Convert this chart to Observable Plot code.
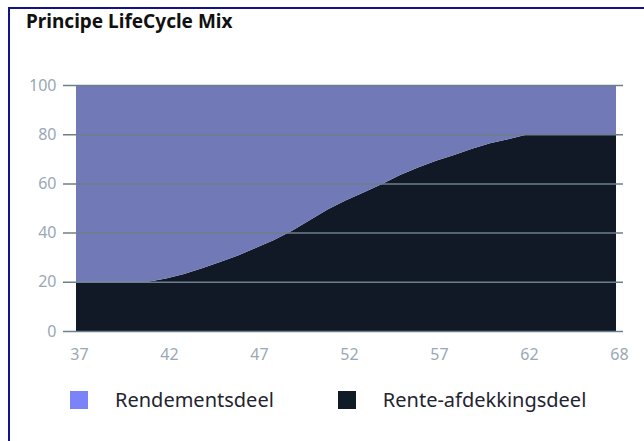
<!DOCTYPE html>
<html>
<head>
<meta charset="utf-8">
<script src="https://cdn.jsdelivr.net/npm/d3@7"></script>
<script src="https://cdn.jsdelivr.net/npm/@observablehq/plot@0.6"></script>
<style>
  html, body { margin: 0; padding: 0; background: #fff; overflow: hidden; }
  #frame { position: absolute; left: 8px; top: 7px; width: 700px; height: 500px;
           border-top: 2px solid #12128a; border-left: 2px solid #12128a; }
  #title { font-family: "Noto Sans", sans-serif; font-weight: 700; font-size: 19px;
           color: #111; padding-left: 16px; height: 26px; line-height: 24px; margin-top: 0px; }
  #legend { display: flex; align-items: center; font-family: "Noto Sans", sans-serif;
            font-size: 20px; color: #1f2430; margin-top: 21px; padding-left: 60px; }
  .item { display: flex; align-items: center; margin-right: 64px; }
  .sw { width: 18px; height: 18px; margin-right: 27px; }
</style>
</head>
<body>
<div id="frame">
  <div id="title">Principe LifeCycle Mix</div>
  <div id="chart"></div>
  <div id="legend"></div>
</div>
<script>
const ages = [37,38,39,40,41,42,43,44,45,46,47,48,49,50,51,52,53,54,55,56,57,58,59,60,61,62,63,64,65,66,67];
const renteAfdekking = [20,20,20,20,20,21.3,23.2,25.5,28,30.7,33.8,37,40.8,45.1,49.5,53.2,56.4,59.8,63.4,66.5,69.2,71.5,74.1,76.3,77.9,79.8,80,80,80,80,80];
const rendement = [80,80,80,80,80,78.7,76.8,74.5,72,69.3,66.2,63,59.2,54.9,50.5,46.8,43.6,40.2,36.6,33.5,30.8,28.5,25.9,23.7,22.1,20.2,20,20,20,20,20];
const seriesNames = ["Rente-afdekkingsdeel", "Rendementsdeel"];
const areaColors = ["#111927", "#7279b7"];
const legendNames = ["Rendementsdeel", "Rente-afdekkingsdeel"];
const legendColors = ["#7b83f8", "#111a27"];
const xTicks = [37,42,47,52,57,62,67];
const xTickLabels = ["37","42","47","52","57","62","68"];
const yTicks = [0,20,40,60,80,100];

const rows = [];
ages.forEach((a, i) => {
  rows.push({age: a, series: seriesNames[0], value: renteAfdekking[i]});
  rows.push({age: a, series: seriesNames[1], value: rendement[i]});
});

const chart = Plot.plot({
  width: 634,
  height: 330,
  marginTop: 50,
  marginBottom: 34,
  marginLeft: 53,
  marginRight: 21,
  style: {fontFamily: "Noto Sans, sans-serif", fontSize: "16px", color: "#9aa8b5", background: "#fff"},
  x: {domain: [37, 67], insetLeft: 13, insetRight: 7},
  y: {domain: [0, 100]},
  color: {domain: seriesNames, range: areaColors},
  marks: [
    Plot.areaY(rows, Plot.stackY({x: "age", y: "value", fill: "series", order: seriesNames})),
    Plot.ruleY(yTicks, {stroke: "#6d7f8c", strokeWidth: 1.5}),
    Plot.axisY({ticks: yTicks, tickSize: 0, tickPadding: 7, label: null, fontSize: 16}),
    Plot.axisX({ticks: xTicks, tickSize: 0, tickPadding: 17, label: null, dx: 3, fontSize: 16,
                tickFormat: (d) => xTickLabels[xTicks.indexOf(d)]})
  ]
});
document.getElementById("chart").appendChild(chart);

const legend = document.getElementById("legend");
legendNames.forEach((n, i) => {
  const it = document.createElement("div");
  it.className = "item";
  const sw = document.createElement("div");
  sw.className = "sw";
  sw.style.background = legendColors[i];
  const t = document.createElement("span");
  t.textContent = n;
  it.appendChild(sw); it.appendChild(t);
  legend.appendChild(it);
});
</script>
</body>
</html>
